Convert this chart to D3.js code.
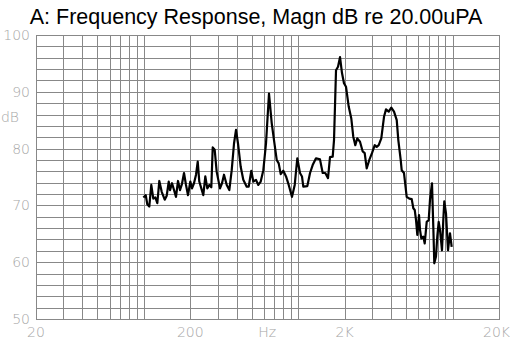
<!DOCTYPE html>
<html>
<head>
<meta charset="utf-8">
<script src="https://cdnjs.cloudflare.com/ajax/libs/d3/7.8.5/d3.min.js"></script>
<style>
  body { margin: 0; background: #fff; }
  svg { display: block; }
  .grid line, .grid path { stroke: #888; stroke-width: 1; shape-rendering: crispEdges; }
  .lbl { fill: #a6a6a6; font-family: "DejaVu Sans", sans-serif; font-weight: 200; font-size: 14px; }
</style>
</head>
<body>
<svg id="chart" width="510" height="341"></svg>
<script>
// frequency (Hz) and magnitude (dB re 20uPa)
var freqs = [99.2, 102.8, 105.2, 108.4, 111.7, 115.1, 118.6, 122.2, 125.9, 130.5,
  136.5, 140.6, 144.9, 147.7, 152.2, 156.8, 161.5, 166.4, 171.4, 176.6,
  182.0, 187.5, 193.2, 200, 205, 211.2, 217.7, 223.3, 228.6, 235.6,
  242.7, 250.1, 257.6, 265.5, 273.5, 279.3, 287.7, 296.4, 311.4, 320.8,
  330.5, 344.3, 357.8, 370.8, 383.8, 395.3, 407.3, 424.0, 440.8, 463.7,
  477.8, 496.8, 511.8, 532.8, 551.4, 571.6, 594.2, 618.5, 646.8, 673.5,
  696.8, 725.7, 747.6, 770.3, 800.8, 833.8, 868.0, 911.6, 949.2, 986.6,
  1027, 1058, 1079, 1146, 1193, 1241, 1304, 1384, 1441, 1498,
  1560, 1607, 1673, 1706, 1758, 1811, 1866, 1922, 1980, 2040,
  2124, 2208, 2274, 2344, 2414, 2514, 2618, 2697, 2778, 2888,
  3006, 3132, 3227, 3324, 3454, 3597, 3706, 3858, 4011, 4176,
  4349, 4453, 4614, 4683, 4847, 5046, 5246, 5439, 5570, 5688,
  5800, 5913, 6064, 6155, 6274, 6465, 6603, 6802, 7008, 7144,
  7361, 7504, 7617, 7812, 7965, 8133, 8293, 8544, 8711, 8842,
  9070, 9343, 9626, 9873];
var magn = [71.4, 71.8, 70.2, 69.8, 73.6, 71.2, 71.4, 70.4, 74.3, 72.4,
  71.0, 71.7, 74.2, 72.7, 73.9, 72.7, 71.5, 74.3, 72.7, 73.8,
  75.7, 73.6, 71.8, 74.2, 73.0, 73.9, 75.4, 77.7, 74.2, 73.0,
  71.8, 75.1, 73.0, 73.6, 73.2, 80.2, 79.8, 75.9, 73.0, 73.9,
  75.4, 73.6, 72.7, 76.2, 80.9, 83.3, 80.9, 76.8, 74.5, 73.3,
  73.3, 76.1, 74.2, 74.5, 73.6, 74.2, 76.2, 80.9, 89.7, 84.5,
  81.5, 78.0, 77.4, 75.5, 76.1, 75.1, 73.6, 71.5, 73.6, 78.3,
  75.7, 75.1, 73.3, 73.4, 75.7, 77.1, 78.3, 78.1, 75.7, 75.7,
  74.8, 78.5, 78.6, 81.5, 93.8, 94.4, 96.1, 93.3, 91.5, 90.9,
  87.4, 85.3, 82.1, 80.6, 81.8, 81.2, 79.5, 79.2, 76.5, 78.0,
  79.2, 80.6, 80.3, 80.6, 81.8, 85.6, 86.9, 86.5, 87.2, 86.5,
  85.0, 81.5, 78.0, 76.2, 75.7, 71.5, 71.2, 71.1, 69.5, 69.2,
  67.4, 64.8, 68.3, 65.7, 64.2, 64.5, 63.3, 67.1, 67.4, 71.0,
  73.9, 66.3, 59.8, 61.0, 64.5, 67.1, 65.7, 62.1, 67.4, 70.7,
  68.6, 62.1, 65.1, 62.7];

var xGrid = [20, 30, 40, 50, 60, 70, 80, 90, 100, 200, 300, 400, 500, 600, 700, 800, 900,
  1000, 2000, 3000, 4000, 5000, 6000, 7000, 8000, 9000, 10000, 20000];
var xLabels = [20, 200, 2000, 20000];
var xLabelText = ["20", "200", "2K", "20K"];
var yGrid = d3.range(50, 101, 2);
var yLabels = [50, 60, 70, 80, 90, 100];

var svg = d3.select("#chart");
var x = d3.scaleLog().domain([20, 20000]).range([36, 499]);
var y = d3.scaleLinear().domain([50, 100]).range([319, 35]);

svg.append("text")
    .attr("x", 256)
    .attr("y", 24)
    .attr("text-anchor", "middle")
    .attr("font-family", "'Liberation Sans', Arial, sans-serif")
    .attr("font-size", 21.5)
    .attr("fill", "#000")
    .text("A: Frequency Response, Magn dB re 20.00uPA");

// grid
svg.append("g")
    .attr("class", "grid")
    .attr("transform", "translate(0,319)")
    .call(d3.axisBottom(x).tickValues(xGrid).tickSize(-284).tickFormat(""))
    .call(function (g) { g.select(".domain").remove(); });

svg.append("g")
    .attr("class", "grid")
    .attr("transform", "translate(36,0)")
    .call(d3.axisLeft(y).tickValues(yGrid).tickSize(-463).tickFormat(""))
    .call(function (g) { g.select(".domain").remove(); });

svg.append("rect")
    .attr("x", 36).attr("y", 35)
    .attr("width", 463).attr("height", 284)
    .attr("fill", "none")
    .attr("stroke", "#888")
    .attr("shape-rendering", "crispEdges");

// labels
svg.append("g").selectAll("text")
    .data(yLabels)
    .enter().append("text")
    .attr("class", "lbl")
    .attr("x", 30)
    .attr("y", function (d) { return y(d); })
    .attr("dy", "0.36em")
    .attr("text-anchor", "end")
    .text(function (d) { return d; });

svg.append("text")
    .attr("class", "lbl")
    .attr("x", 19)
    .attr("y", y(85.5))
    .attr("dy", "0.36em")
    .attr("text-anchor", "end")
    .text("dB");

svg.append("g").selectAll("text")
    .data(xLabels)
    .enter().append("text")
    .attr("class", "lbl")
    .attr("x", function (d) { return x(d); })
    .attr("y", 341)
    .attr("dy", "-0.3em")
    .attr("text-anchor", function (d, i) { return i === xLabels.length - 1 ? "end" : "middle"; })
    .text(function (d, i) { return xLabelText[i]; })
    .attr("dx", function (d, i) { return i === xLabels.length - 1 ? 11 : 0; });

svg.append("text")
    .attr("class", "lbl")
    .attr("x", x(630))
    .attr("y", 341)
    .attr("dy", "-0.3em")
    .attr("text-anchor", "middle")
    .text("Hz");

// response curve
var line = d3.line()
    .x(function (d) { return x(d[0]); })
    .y(function (d) { return y(d[1]); });

svg.append("path")
    .datum(d3.zip(freqs, magn))
    .attr("fill", "none")
    .attr("stroke", "#000")
    .attr("stroke-width", 2.2)
    .attr("stroke-linejoin", "round")
    .attr("d", line);
</script>
</body>
</html>
